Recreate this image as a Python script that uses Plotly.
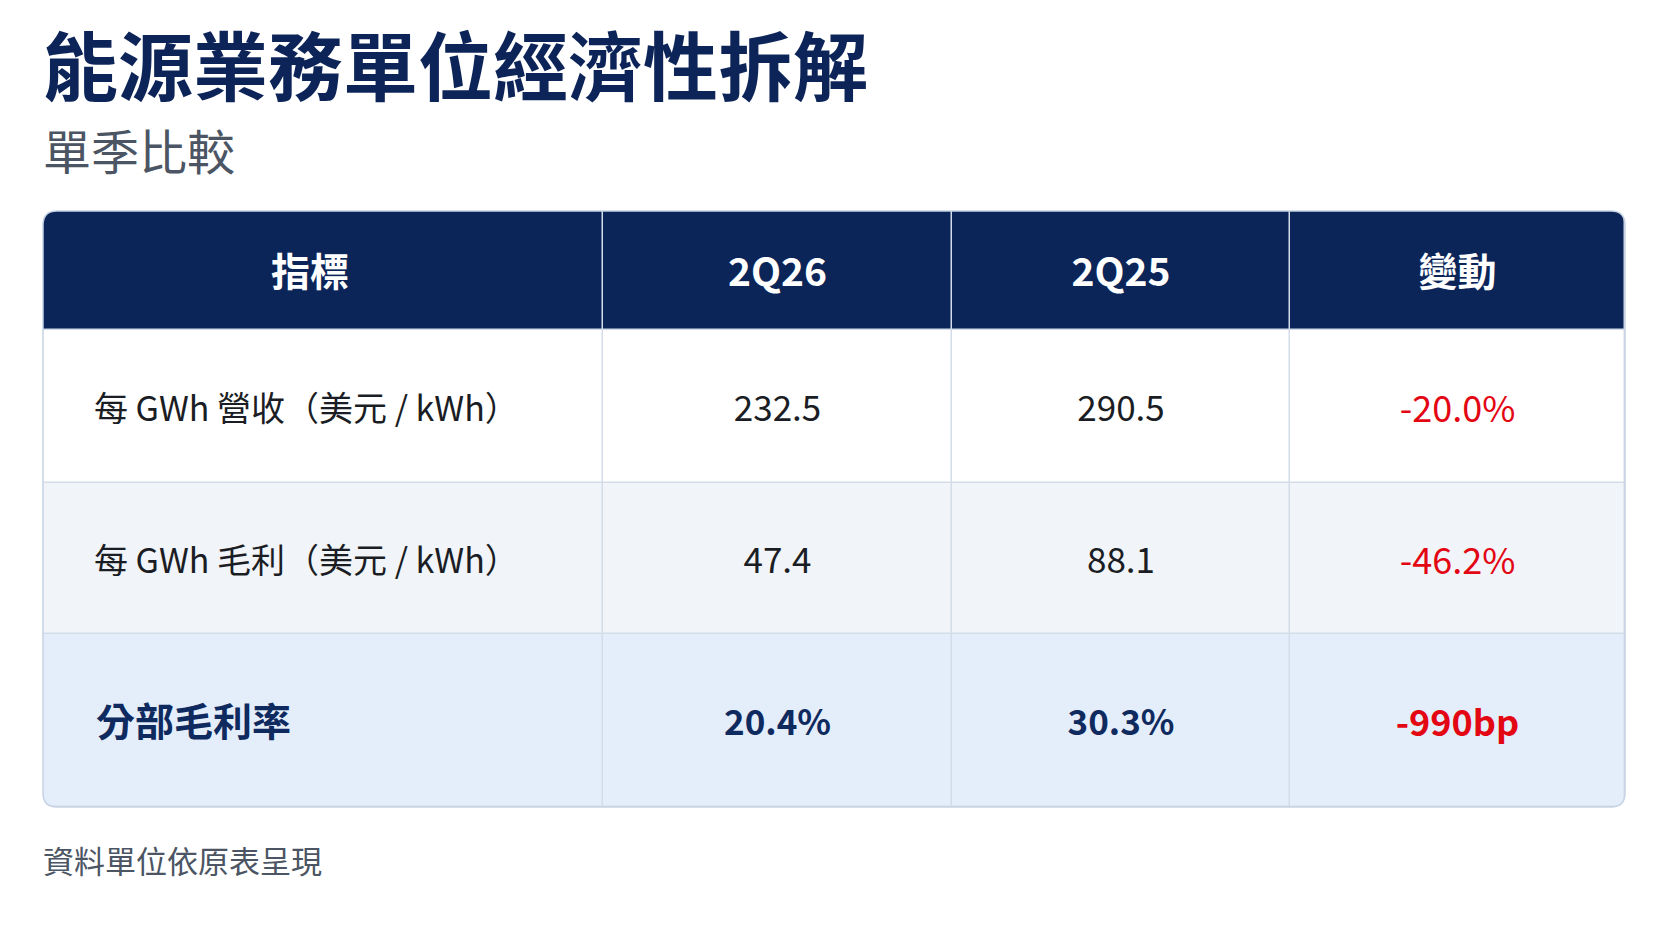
"""
能源業務單位經濟性拆解 — 單季比較表 (Plotly 靜態 HTML)
"""

import plotly.graph_objects as go

# 資料
headers = ["指標", "2Q26", "2Q25", "變動"]
metrics = ["每 GWh 營收（美元 / kWh）", "每 GWh 毛利（美元 / kWh）", "分部毛利率"]
q2_26 = [232.5, 47.4, 20.4]
q2_25 = [290.5, 88.1, 30.3]
changes = ["-20.0%", "-46.2%", "-990bp"]
units = ["", "", "%"]

W, H = 1672, 941
OFF = 8  # 頁面 body 預設邊距, 讓座標對應到畫面像素
FONT = "Noto Sans CJK TC"
NAVY = "#0b2559"
RED = "#e30613"
GRID = "#d3dce9"

# 表格格線位置 (px)
col_edges = [43, 603, 952, 1290, 1625]
row_edges = [211, 330, 483, 634, 807]
radius = 14
dy = 6  # 文字垂直微調


def fmt(v, u):
    return f"{v:.1f}{u}"


def build_figure():
    fig = go.Figure()

    # 儲存格底色: 0=表頭, 1=白, 2=淺灰, 3=淺藍
    z = [[0] * 4, [1] * 4, [2] * 4, [3] * 4]
    colorscale = [
        [0.0, NAVY], [0.2, NAVY],
        [0.2, "#ffffff"], [0.5, "#ffffff"],
        [0.5, "#f1f4f8"], [0.8, "#f1f4f8"],
        [0.8, "#e4eefb"], [1.0, "#e4eefb"],
    ]
    fig.add_trace(go.Heatmap(
        x=col_edges, y=row_edges, z=z, zmin=0, zmax=3,
        colorscale=colorscale, showscale=False, hoverinfo="skip",
        xgap=1.5, ygap=1.5,
    ))

    col_mid = [(a + b) / 2 for a, b in zip(col_edges[:-1], col_edges[1:])]
    row_mid = [(a + b) / 2 + dy for a, b in zip(row_edges[:-1], row_edges[1:])]
    label_x = col_edges[0] + 51
    head_x = [col_mid[0] - 13] + col_mid[1:]

    # 表頭
    fig.add_trace(go.Scatter(
        x=head_x, y=[row_mid[0]] * 4, mode="text", text=headers,
        textfont=dict(family=FONT, size=39, color="#ffffff", weight="bold"),
        hoverinfo="skip",
    ))

    # 前兩列
    body = row_mid[1:3]
    fig.add_trace(go.Scatter(
        x=[label_x] * 2, y=body, mode="text", text=metrics[:2],
        textposition="middle right",
        textfont=dict(family=FONT, size=34, color="#1b1d24"),
        hoverinfo="skip",
    ))
    fig.add_trace(go.Scatter(
        x=[col_mid[1]] * 2 + [col_mid[2]] * 2, y=body + body, mode="text",
        text=[fmt(v, u) for v, u in zip(q2_26[:2], units[:2])]
        + [fmt(v, u) for v, u in zip(q2_25[:2], units[:2])],
        textfont=dict(family=FONT, size=35, color="#1b1d24"),
        hoverinfo="skip",
    ))
    fig.add_trace(go.Scatter(
        x=[col_mid[3]] * 2, y=body, mode="text", text=changes[:2],
        textfont=dict(family=FONT, size=36, color=RED),
        hoverinfo="skip",
    ))

    # 分部毛利率 (粗體)
    fig.add_trace(go.Scatter(
        x=[label_x + 2], y=[row_mid[3]], mode="text", text=[metrics[2]],
        textposition="middle right",
        textfont=dict(family=FONT, size=39, color="#0f2a5e", weight="bold"),
        hoverinfo="skip",
    ))
    fig.add_trace(go.Scatter(
        x=[col_mid[1], col_mid[2]], y=[row_mid[3]] * 2, mode="text",
        text=[fmt(q2_26[2], units[2]), fmt(q2_25[2], units[2])],
        textfont=dict(family=FONT, size=35, color="#0f2a5e", weight="bold"),
        hoverinfo="skip",
    ))
    fig.add_trace(go.Scatter(
        x=[col_mid[3]], y=[row_mid[3]], mode="text", text=[changes[2]],
        textfont=dict(family=FONT, size=36, color=RED, weight="bold"),
        hoverinfo="skip",
    ))

    # 圓角: 先用白色遮住四角, 再畫外框
    x0, x1 = col_edges[0], col_edges[-1]
    y0, y1 = row_edges[0], row_edges[-1]
    r = radius
    shapes = [
        # 格線底色
        dict(type="rect", x0=x0, x1=x1, y0=y0, y1=y1, layer="below",
             fillcolor=GRID, line=dict(width=0)),
    ]
    e = 2
    corners = [
        f"M {x0-e},{y0-e} L {x0+r},{y0-e} L {x0+r},{y0} Q {x0},{y0} {x0},{y0+r} L {x0-e},{y0+r} Z",
        f"M {x1+e},{y0-e} L {x1-r},{y0-e} L {x1-r},{y0} Q {x1},{y0} {x1},{y0+r} L {x1+e},{y0+r} Z",
        f"M {x0-e},{y1+e} L {x0+r},{y1+e} L {x0+r},{y1} Q {x0},{y1} {x0},{y1-r} L {x0-e},{y1-r} Z",
        f"M {x1+e},{y1+e} L {x1-r},{y1+e} L {x1-r},{y1} Q {x1},{y1} {x1},{y1-r} L {x1+e},{y1-r} Z",
    ]
    for p in corners:
        shapes.append(dict(type="path", path=p, fillcolor="#ffffff",
                           line=dict(width=0), layer="above"))
    outline = (
        f"M {x0+r},{y0} L {x1-r},{y0} Q {x1},{y0} {x1},{y0+r} "
        f"L {x1},{y1-r} Q {x1},{y1} {x1-r},{y1} "
        f"L {x0+r},{y1} Q {x0},{y1} {x0},{y1-r} "
        f"L {x0},{y0+r} Q {x0},{y0} {x0+r},{y0} Z"
    )
    shapes.append(dict(type="path", path=outline, line=dict(color="#c6d2e3", width=1.5),
                       fillcolor="rgba(0,0,0,0)", layer="above"))

    annotations = [
        dict(x=41, y=62, text="能源業務單位經濟性拆解", showarrow=False,
             xanchor="left", yanchor="middle",
             font=dict(family=FONT, size=75, color="#0d2458", weight="bold")),
        dict(x=41, y=149, text="單季比較", showarrow=False,
             xanchor="left", yanchor="middle",
             font=dict(family=FONT, size=48, color="#4b5563")),
        dict(x=41, y=859, text="資料單位依原表呈現", showarrow=False,
             xanchor="left", yanchor="middle",
             font=dict(family=FONT, size=31, color="#4b5563")),
    ]

    fig.update_layout(
        width=W, height=H,
        margin=dict(l=0, r=0, t=0, b=0),
        paper_bgcolor="#ffffff", plot_bgcolor="#ffffff",
        showlegend=False,
        xaxis=dict(range=[OFF, W + OFF], visible=False, fixedrange=True),
        yaxis=dict(range=[H + OFF, OFF], visible=False, fixedrange=True),
        shapes=shapes, annotations=annotations,
    )
    return fig


if __name__ == "__main__":
    fig = build_figure()
    fig.write_html("out.html")
